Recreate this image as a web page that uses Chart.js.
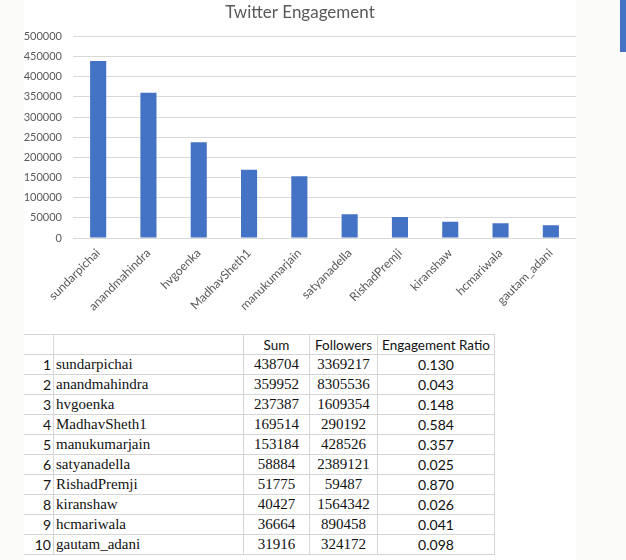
<!DOCTYPE html>
<html>
<head>
<meta charset="utf-8">
<script src="https://cdn.jsdelivr.net/npm/chart.js@4.4.0/dist/chart.umd.min.js"></script>
<style>
  html, body { margin: 0; padding: 0; background: #ffffff; }
  body { width: 626px; height: 560px; position: relative; overflow: hidden; }
  #side { position: absolute; left: 0; top: 0; width: 24px; height: 560px; background: #fbfcf9; }
  #right { position: absolute; left: 576px; top: 0; width: 50px; height: 560px; background: #fbfcf9; }
  #tab { position: absolute; left: 620px; top: 0; width: 6px; height: 52px; background: #4472c4; }
  #wrap { position: absolute; left: 24px; top: 0; width: 552px; height: 312px; }
  table { position: absolute; left: 24px; top: 334px; border-collapse: collapse; }
  td { border: 1px solid #d6d6d6; height: 19px; padding: 0 2px; line-height: 19px; white-space: nowrap; }
  td.n { font-family: Lato, sans-serif; font-size: 14px; text-align: right; width: 25px; border-left: none; color: #111; }
  td.nm { font-family: "Liberation Serif", serif; font-size: 15px; width: 185px; color: #111; }
  td.v { font-family: "Liberation Serif", serif; font-size: 15px; text-align: center; color: #111; }
  td.r { font-family: Lato, sans-serif; font-size: 14px; text-align: center; color: #111; }
  th { font-family: Lato, sans-serif; font-weight: normal; font-size: 13.5px; border: 1px solid #d6d6d6; height: 19px; padding: 0 2px; color: #111; }
</style>
</head>
<body>
<div id="side"></div>
<div id="right"></div>
<div id="tab"></div>
<div id="wrap"><canvas id="engChart" width="552" height="312"></canvas></div>
<table id="tbl"></table>
<script>
const handles = ['sundarpichai', 'anandmahindra', 'hvgoenka', 'MadhavSheth1', 'manukumarjain',
  'satyanadella', 'RishadPremji', 'kiranshaw', 'hcmariwala', 'gautam_adani'];
const sums = [438704, 359952, 237387, 169514, 153184, 58884, 51775, 40427, 36664, 31916];
const followers = [3369217, 8305536, 1609354, 290192, 428526, 2389121, 59487, 1564342, 890458, 324172];
const ratios = ['0.130', '0.043', '0.148', '0.584', '0.357', '0.025', '0.870', '0.026', '0.041', '0.098'];

// table under the chart
const tbl = document.getElementById('tbl');
let html = '<tr><th style="border-left:none;width:25px"></th><th style="width:185px"></th>' +
  '<th style="width:61px">Sum</th><th style="width:63px">Followers</th><th style="width:112px">Engagement Ratio</th></tr>';
handles.forEach((h, i) => {
  html += `<tr><td class="n">${i + 1}</td><td class="nm">${h}</td><td class="v">${sums[i]}</td>` +
    `<td class="v">${followers[i]}</td><td class="r">${ratios[i]}</td></tr>`;
});
tbl.innerHTML = html;

const grey = '#595959';
const ctx = document.getElementById('engChart').getContext('2d');
new Chart(ctx, {
  type: 'bar',
  data: {
    labels: handles,
    datasets: [{
      label: 'Sum',
      data: sums,
      backgroundColor: '#4472c4',
      barPercentage: 0.32,
      categoryPercentage: 1
    }]
  },
  options: {
    responsive: false,
    animation: false,
    layout: { padding: { left: 0, right: 0, top: 0, bottom: 0 } },
    plugins: {
      legend: { display: false },
      tooltip: { enabled: false },
      title: {
        display: true,
        text: 'Twitter Engagement',
        color: grey,
        font: { family: 'Lato', size: 17, weight: 'normal' },
        padding: { top: 2, bottom: 14 }
      }
    },
    scales: {
      x: {
        grid: { display: false },
        border: { display: false },
        ticks: {
          color: grey,
          font: { family: 'Lato', size: 12 },
          minRotation: 45,
          maxRotation: 45,
          padding: 0
        },
        afterFit: s => { s.height = 74; }
      },
      y: {
        min: 0,
        max: 500000,
        grid: { color: '#d9d9d9', drawTicks: false },
        border: { display: false },
        ticks: {
          stepSize: 50000,
          color: grey,
          font: { family: 'Lato', size: 11 },
          padding: 11,
          callback: v => String(v)
        },
        afterFit: s => { s.width = 49; }
      }
    }
  }
});
</script>
</body>
</html>
